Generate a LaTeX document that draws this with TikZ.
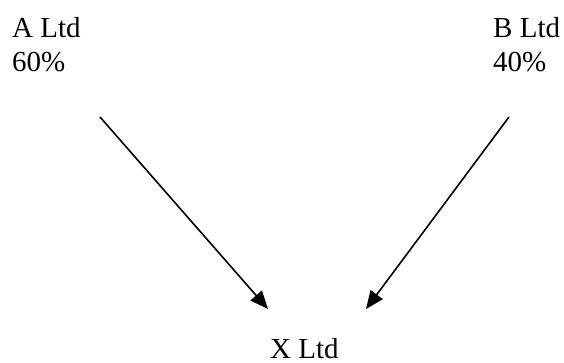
\documentclass[tikz,border=0pt]{standalone}
\usepackage{fontspec}
\setmainfont{Liberation Serif}
\usetikzlibrary{arrows.meta}
\begin{document}
\begin{tikzpicture}[x=1pt,y=1pt,
  lbl/.style={font=\fontsize{29}{34}\selectfont, inner sep=0pt, anchor=base west},
  arr/.style={line width=1.6pt, -{Triangle[length=18pt,width=15pt]}}]
\useasboundingbox (0,0) rectangle (564,363);
\node[lbl] (aname) at (12,325) {A Ltd};
\node[lbl] (apct) at (12,291) {60\%};
\node[lbl] (bname) at (493,325) {B Ltd};
\node[lbl] (bpct) at (493,291) {40\%};
\node[lbl] (xname) at (270,4) {X Ltd};
\coordinate (as) at (100,246);
\coordinate (ae) at (268,54);
\coordinate (bs) at (509,246);
\coordinate (be) at (366,54);
\draw[arr] (as) -- (ae);
\draw[arr] (bs) -- (be);
\end{tikzpicture}
\end{document}
